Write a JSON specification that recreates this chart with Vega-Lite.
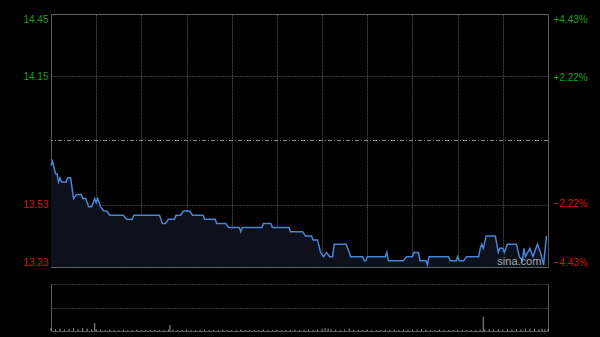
{
  "$schema": "https://vega.github.io/schema/vega-lite/v6.json",
  "autosize": {"type": "pad"},
  "padding": {"left": 22, "top": 13, "right": 13, "bottom": 5},
  "background": "#000000",
  "spacing": 15,
  "datasets": {
    "price": [
      {"t":0,"p":13.72},{"t":1,"p":13.74},{"t":3,"p":13.68},{"t":4,"p":13.68},{"t":5,"p":13.64},{"t":6,"p":13.66},{"t":7,"p":13.64},{"t":10,"p":13.64},{"t":11,"p":13.66},{"t":13,"p":13.66},{"t":15,"p":13.56},{"t":17,"p":13.58},{"t":20,"p":13.58},{"t":21,"p":13.56},{"t":23,"p":13.56},{"t":25,"p":13.52},{"t":27,"p":13.52},{"t":29,"p":13.56},{"t":30,"p":13.54},{"t":31,"p":13.56},{"t":33,"p":13.52},{"t":35,"p":13.50},{"t":37,"p":13.50},{"t":39,"p":13.48},{"t":48,"p":13.48},{"t":50,"p":13.46},{"t":54,"p":13.46},{"t":55,"p":13.48},{"t":72,"p":13.48},{"t":74,"p":13.44},{"t":76,"p":13.44},{"t":78,"p":13.46},{"t":82,"p":13.46},{"t":83,"p":13.48},{"t":86,"p":13.48},{"t":88,"p":13.50},{"t":92,"p":13.50},{"t":94,"p":13.48},{"t":101,"p":13.48},{"t":102,"p":13.46},{"t":109,"p":13.46},{"t":110,"p":13.44},{"t":116,"p":13.44},{"t":118,"p":13.42},{"t":125,"p":13.42},{"t":126,"p":13.40},{"t":127,"p":13.42},{"t":140,"p":13.42},{"t":141,"p":13.44},{"t":146,"p":13.44},{"t":147,"p":13.42},{"t":158,"p":13.42},{"t":159,"p":13.40},{"t":167,"p":13.40},{"t":169,"p":13.38},{"t":173,"p":13.38},{"t":174,"p":13.36},{"t":177,"p":13.36},{"t":179,"p":13.30},{"t":181,"p":13.28},{"t":183,"p":13.30},{"t":185,"p":13.28},{"t":187,"p":13.28},{"t":188,"p":13.34},{"t":196,"p":13.34},{"t":197,"p":13.32},{"t":199,"p":13.28},{"t":207,"p":13.28},{"t":208,"p":13.26},{"t":209,"p":13.26},{"t":210,"p":13.28},{"t":222,"p":13.28},{"t":223,"p":13.30},{"t":224,"p":13.26},{"t":234,"p":13.26},{"t":236,"p":13.28},{"t":240,"p":13.28},{"t":241,"p":13.30},{"t":244,"p":13.30},{"t":245,"p":13.26},{"t":249,"p":13.26},{"t":250,"p":13.24},{"t":251,"p":13.28},{"t":264,"p":13.28},{"t":265,"p":13.26},{"t":269,"p":13.26},{"t":270,"p":13.28},{"t":271,"p":13.26},{"t":274,"p":13.26},{"t":276,"p":13.28},{"t":284,"p":13.28},{"t":285,"p":13.32},{"t":286,"p":13.34},{"t":287,"p":13.32},{"t":289,"p":13.38},{"t":295,"p":13.38},{"t":297,"p":13.30},{"t":298,"p":13.32},{"t":300,"p":13.32},{"t":301,"p":13.30},{"t":303,"p":13.34},{"t":309,"p":13.34},{"t":311,"p":13.28},{"t":313,"p":13.26},{"t":314,"p":13.32},{"t":315,"p":13.28},{"t":318,"p":13.32},{"t":320,"p":13.28},{"t":323,"p":13.34},{"t":325,"p":13.30},{"t":327,"p":13.24},{"t":329,"p":13.38}
    ],
    "vol": [
      {"t":0,"v":6},{"t":3,"v":4},{"t":6,"v":5},{"t":9,"v":3},{"t":12,"v":5},{"t":15,"v":6},{"t":18,"v":4},{"t":21,"v":6},{"t":24,"v":5},{"t":27,"v":4},{"t":29,"v":17},{"t":30,"v":3},{"t":33,"v":3},{"t":36,"v":2},{"t":39,"v":3},{"t":42,"v":2},{"t":45,"v":2},{"t":48,"v":3},{"t":51,"v":2},{"t":54,"v":2},{"t":57,"v":3},{"t":60,"v":2},{"t":63,"v":2},{"t":66,"v":2},{"t":69,"v":3},{"t":72,"v":2},{"t":75,"v":2},{"t":78,"v":3},{"t":79,"v":13},{"t":81,"v":3},{"t":84,"v":2},{"t":87,"v":2},{"t":90,"v":3},{"t":93,"v":2},{"t":96,"v":2},{"t":99,"v":2},{"t":102,"v":3},{"t":105,"v":2},{"t":108,"v":2},{"t":111,"v":2},{"t":114,"v":3},{"t":117,"v":2},{"t":120,"v":2},{"t":123,"v":2},{"t":126,"v":3},{"t":129,"v":2},{"t":132,"v":2},{"t":135,"v":2},{"t":138,"v":2},{"t":141,"v":3},{"t":144,"v":2},{"t":147,"v":2},{"t":150,"v":3},{"t":153,"v":2},{"t":156,"v":2},{"t":159,"v":2},{"t":162,"v":3},{"t":165,"v":2},{"t":168,"v":2},{"t":171,"v":3},{"t":174,"v":2},{"t":177,"v":3},{"t":180,"v":5},{"t":182,"v":6},{"t":184,"v":5},{"t":186,"v":4},{"t":189,"v":3},{"t":192,"v":2},{"t":195,"v":3},{"t":198,"v":5},{"t":201,"v":3},{"t":204,"v":2},{"t":207,"v":2},{"t":210,"v":3},{"t":213,"v":2},{"t":216,"v":2},{"t":219,"v":2},{"t":222,"v":3},{"t":225,"v":2},{"t":228,"v":3},{"t":231,"v":2},{"t":234,"v":3},{"t":237,"v":2},{"t":240,"v":3},{"t":243,"v":3},{"t":246,"v":4},{"t":249,"v":3},{"t":252,"v":2},{"t":255,"v":2},{"t":258,"v":3},{"t":261,"v":2},{"t":264,"v":2},{"t":267,"v":2},{"t":270,"v":3},{"t":273,"v":2},{"t":276,"v":2},{"t":279,"v":2},{"t":282,"v":2},{"t":285,"v":3},{"t":287,"v":30},{"t":288,"v":3},{"t":291,"v":4},{"t":294,"v":3},{"t":297,"v":4},{"t":300,"v":3},{"t":303,"v":4},{"t":306,"v":3},{"t":309,"v":4},{"t":312,"v":3},{"t":315,"v":5},{"t":318,"v":4},{"t":321,"v":5},{"t":324,"v":4},{"t":326,"v":5},{"t":328,"v":4},{"t":330,"v":5}
    ]
  },
  "vconcat": [
    {
      "width": 497,
      "height": 253,
      "view": {"stroke": "#5a5a5a"},
      "layer": [
        {
          "data": {"name": "price"},
          "mark": {"type": "area", "fill": "#0c111c", "opacity": 1},
          "encoding": {
            "x": {"field": "t", "type": "quantitative", "scale": {"domain": [0, 330], "nice": false, "zero": false},
                  "axis": {"title": null, "labels": false, "ticks": false, "domain": false, "grid": true, "values": [30,60,90,120,150,180,210,240,270,300], "gridColor": "#444444", "gridDash": [2,1], "gridWidth": 1}},
            "y": {"field": "p", "type": "quantitative", "scale": {"domain": [13.23, 14.45], "nice": false, "zero": false}, "axis": null},
            "y2": {"datum": 13.23}
          }
        },
        {
          "data": {"values": [{"z": 0}]},
          "mark": {"type": "rule", "color": "#8a8a8a", "strokeWidth": 1, "strokeDash": [4, 2, 1, 2]},
          "encoding": {
            "y": {"datum": 0, "type": "quantitative", "scale": {"domain": [-4.43, 4.43], "nice": false, "zero": false},
                  "axis": {"orient": "right", "title": null, "values": [-4.43, -2.22, 2.22, 4.43], "ticks": false, "domain": false, "grid": false,
                           "labelExpr": "(datum.value > 0 ? '+' : '') + format(datum.value, '.2f') + '%'",
                           "labelColor": {"condition": {"test": "datum.value > 0", "value": "#1f9e1f"}, "value": "#cf1a1a"},
                           "labelFlush": true, "labelPadding": 5, "labelFont": "Liberation Sans", "labelFontSize": 10}}
          }
        },
        {
          "data": {"name": "price"},
          "mark": {"type": "line", "color": "#4a84d4", "strokeWidth": 1.5, "interpolate": "linear"},
          "encoding": {
            "x": {"field": "t", "type": "quantitative", "scale": {"domain": [0, 330], "nice": false, "zero": false}},
            "y": {"field": "p", "type": "quantitative", "scale": {"domain": [13.23, 14.45], "nice": false, "zero": false},
                  "axis": {"orient": "left", "title": null, "values": [13.23, 13.53, 14.15, 14.45], "format": ".2f", "ticks": false, "domain": false,
                           "grid": true, "gridColor": "#6e6e6e", "gridDash": [1, 2], "gridWidth": 1,
                           "labelColor": {"condition": {"test": "datum.value > 13.84", "value": "#1f9e1f"}, "value": "#cf1a1a"},
                           "labelFlush": true, "labelPadding": 3, "labelFont": "Liberation Sans", "labelFontSize": 10}}
          }
        },
        {
          "data": {"values": [{"t": 311, "p": 13.254, "label": "sina.com"}]},
          "mark": {"type": "text", "color": "#a8a8a8", "font": "Liberation Sans", "fontSize": 11, "align": "center", "baseline": "middle"},
          "encoding": {
            "x": {"field": "t", "type": "quantitative", "scale": {"domain": [0, 330], "nice": false, "zero": false}},
            "y": {"field": "p", "type": "quantitative", "scale": {"domain": [13.23, 14.45], "nice": false, "zero": false}, "axis": null},
            "text": {"field": "label"}
          }
        }
      ],
      "resolve": {"scale": {"y": "independent"}, "axis": {"y": "independent"}}
    },
    {
      "width": 497,
      "height": 47,
      "view": {"stroke": null},
      "layer": [
        {
          "data": {"name": "vol"},
          "mark": {"type": "rule", "color": "#9a9a9a", "strokeWidth": 1},
          "encoding": {
            "x": {"field": "t", "type": "quantitative", "scale": {"domain": [0, 330], "nice": false, "zero": false},
                  "axis": {"orient": "bottom", "title": null, "labels": false, "ticks": false, "grid": false, "domain": true, "domainColor": "#5a5a5a"}},
            "y": {"field": "v", "type": "quantitative", "scale": {"domain": [0, 100], "nice": false},
                  "axis": {"orient": "left", "title": null, "labels": false, "ticks": false, "domain": true, "domainColor": "#5a5a5a",
                           "grid": true, "values": [50, 100], "gridColor": "#777777", "gridDash": [1, 2]}},
            "y2": {"datum": 0}
          }
        },
        {
          "data": {"name": "vol"},
          "mark": {"type": "rule", "opacity": 0},
          "encoding": {
            "y": {"field": "v", "type": "quantitative", "scale": {"domain": [0, 100], "nice": false},
                  "axis": {"orient": "right", "title": null, "labels": false, "ticks": false, "grid": false, "domain": true, "domainColor": "#5a5a5a"}}
          }
        }
      ],
      "resolve": {"axis": {"y": "independent"}}
    }
  ],
  "config": {
    "background": "#000000",
    "view": {"stroke": "#5a5a5a"},
    "axis": {"labelFont": "Liberation Sans", "labelFontSize": 10}
  }
}
